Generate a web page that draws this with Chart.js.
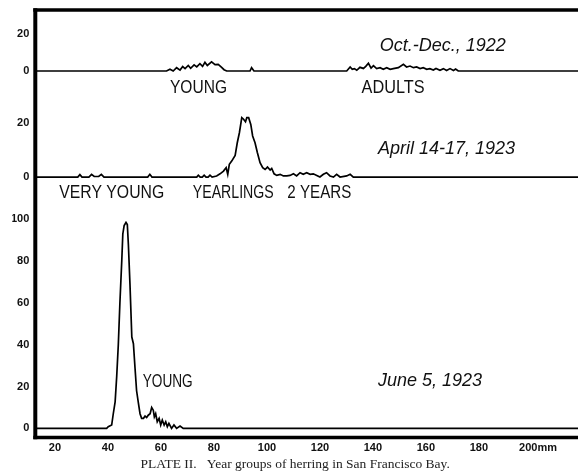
<!DOCTYPE html>
<html><head><meta charset="utf-8">
<script src="https://cdn.jsdelivr.net/npm/chart.js@4"></script>
<style>html,body{margin:0;padding:0;background:#fff}canvas{display:block}</style>
</head><body>
<canvas id="c" width="578" height="472"></canvas>
<script>
// ---- data (length in mm, relative frequency) ----
const xTickValues = [20, 40, 60, 80, 100, 120, 140, 160, 180, 200];
const xTickLabels = ['20', '40', '60', '80', '100', '120', '140', '160', '180', '200mm'];
const octTicks = [0, 20];
const aprTicks = [0, 20];
const junTicks = [0, 20, 40, 60, 80, 100];

const octSample = [[12,0],[62.1,0],[63.4,1.0],[64.6,0],[65.9,1.8],[67.2,0.5],[68.2,2.4],[69.1,1.3],[70.3,3.0],[71.2,1.5],[72.5,3.3],[73.5,2.2],[74.7,4.0],[75.7,2.5],[76.6,4.7],[77.5,3.0],[79.1,5.0],[80.4,3.5],[81.6,3.6],[82.9,2.0],[83.8,0.7],[84.8,0],[93.6,0],[94.2,1.8],[95.1,0],
  [130.1,0],[131.4,2.2],[132.2,0.9],[133.0,1.3],[133.9,0.4],[135.1,2.0],[136.4,1.4],[137.3,2.5],[138.3,4.2],[139.3,1.6],[140.2,2.9],[141.4,1.3],[142.7,1.8],[143.9,0.9],[145.2,1.8],[146.5,0.9],[147.7,1.3],[149.6,1.8],[151.5,3.6],[152.7,2.2],[154,2.7],[155.3,1.8],[156.5,2.2],[157.8,1.3],[159,1.8],[160.3,0.9],[161.5,1.3],[162.8,0.5],[163.8,1.4],[165.3,0.4],[166.6,1.3],[167.8,0.3],[169.1,1.3],[170.4,0.3],[171.2,1.1],[172.2,0],[218,0]];

const aprSample = [[12,0],[28.6,0],[29.4,0.9],[30.2,0],[32.8,0],[33.8,1],[34.8,0.2],[36.5,0.2],[37.5,1],[38.5,0],[55,0],[55.8,1],[56.6,0],
  [73.5,0],[74.1,0.7],[74.8,0],[75.6,0],[76.3,0.7],[77.0,0],[77.8,0],[78.5,0.7],[79.3,0],[81.0,0.4],[82.3,1.2],[83.6,2.2],[84.6,3.5],[85.2,1],[85.8,4.7],[86.7,5.9],[88,8],[88.8,12.7],[89.6,16.4],[90.5,22],[91.1,21.5],[91.9,20.5],[92.4,22],[93.1,22],[93.9,19.5],[94.6,15.2],[95.5,12.7],[96.4,9],[97.4,5.3],[98.4,3.5],[99.3,2.8],[100.2,3.7],[101.2,2.6],[101.8,3.2],[102.7,1.2],[103.7,0.6],[105,1],[106.2,0.4],[107.5,0.4],[108.7,0.6],[110,1.2],[111.2,0.4],[112.5,1.6],[113.7,1],[115,1.6],[116.3,1],[117.5,1.2],[118.8,0.6],[120,0],[121.3,1],[122.5,1.6],[123.8,0.4],[125.1,0],[126.3,1],[127.6,0],[130.1,0.4],[131.4,1],[132.6,0],[218,0]];

const junSample = [[12,0],[39.5,0],[40.1,0.8],[41.4,1.6],[42,7],[42.7,12.7],[43.3,25],[43.9,40],[44.5,60],[45.2,80],[45.6,93],[46.1,97],[46.8,98.5],[47.3,97.5],[47.7,88],[48.3,69],[49,43.7],[49.6,40.5],[50.2,29],[50.8,18],[51.5,12],[52.1,7],[52.7,4.8],[53.4,4.8],[54,5.9],[54.6,5.2],[55.2,6.3],[55.9,7],[56.5,10],[57.1,8.7],[57.5,5.5],[58,7],[58.6,3.2],[59.3,4.8],[59.9,1.6],[60.5,4],[61.2,1.6],[61.8,3.2],[62.4,0.8],[63,2.4],[64,0],[64.9,1.6],[65.9,0],[67.2,1.1],[68.4,0],[218,0]];

const panelTitles = ['Oct.-Dec., 1922', 'April 14-17, 1923', 'June 5, 1923'];
const groupLabels = ['YOUNG', 'ADULTS', 'VERY YOUNG', 'YEARLINGS', '2 YEARS', 'YOUNG'];
const caption = 'PLATE II.   Year groups of herring in San Francisco Bay.';

// ---- annotation placement (data coordinates of each panel) ----
const notes = [
  {text: groupLabels[0], axis: 'yOct', x: 63.4, y: -9.0, w: 57},
  {text: groupLabels[1], axis: 'yOct', x: 135.7, y: -9.4, w: 63},
  {text: panelTitles[0], axis: 'yOct', x: 142.6, y: 13.6, w: 132, italic: true},
  {text: groupLabels[2], axis: 'yApr', x: 21.6, y: -5.8, w: 105},
  {text: groupLabels[3], axis: 'yApr', x: 72.0, y: -5.8, w: 81},
  {text: groupLabels[4], axis: 'yApr', x: 107.7, y: -5.8, w: 64},
  {text: panelTitles[1], axis: 'yApr', x: 141.9, y: 10.4, w: 142, italic: true},
  {text: groupLabels[5], axis: 'yJun', x: 53.1, y: 22.3, w: 50},
  {text: panelTitles[2], axis: 'yJun', x: 141.9, y: 22.9, w: 109, italic: true}
];

const toPoints = s => s.map(([x, y]) => ({x, y}));

const framePlugin = {
  id: 'frame',
  beforeDatasetsDraw(chart) {
    const {ctx} = chart;
    const {left, top, right, bottom} = chart.chartArea;
    ctx.save();
    ctx.strokeStyle = '#000';
    ctx.lineWidth = 3.5;
    ctx.beginPath();
    ctx.moveTo(left - 2, top); ctx.lineTo(right, top);
    ctx.moveTo(left - 2, bottom); ctx.lineTo(right, bottom);
    ctx.stroke();
    ctx.lineWidth = 4;
    ctx.beginPath();
    ctx.moveTo(left, top - 1.75); ctx.lineTo(left, bottom + 1.75);
    ctx.stroke();
    ctx.restore();
  }
};

const notesPlugin = {
  id: 'notes',
  afterDatasetsDraw(chart) {
    const {ctx} = chart;
    const xs = chart.scales.x;
    ctx.save();
    ctx.fillStyle = '#111';
    ctx.textAlign = 'left';
    ctx.textBaseline = 'middle';
    for (const n of notes) {
      ctx.font = (n.italic ? 'italic ' : '') + '18px "Liberation Sans", Arial, sans-serif';
      ctx.fillText(n.text, xs.getPixelForValue(n.x), chart.scales[n.axis].getPixelForValue(n.y), n.w);
    }
    ctx.restore();
  }
};

const tickFont = {family: '"Liberation Sans", Arial, sans-serif', size: 11, weight: 'bold'};

function yAxis(tickArr, min, max, weight, stackWeight) {
  return {
    type: 'linear', position: 'left', stack: 'panels', stackWeight, weight, min, max, offset: false,
    grid: {display: false, drawTicks: false}, border: {display: false},
    afterBuildTicks: a => { a.ticks = tickArr.map(v => ({value: v})); },
    afterFit: a => { a.width = 23; },
    ticks: {autoSkip: false, padding: 6, color: '#111', font: Object.assign({lineHeight: 0.6}, tickFont)}
  };
}

const common = {borderColor: '#000', borderWidth: 1.7, pointRadius: 0, fill: false, tension: 0};

new Chart(document.getElementById('c'), {
  type: 'line',
  data: {
    datasets: [
      Object.assign({data: toPoints(octSample), yAxisID: 'yOct'}, common),
      Object.assign({data: toPoints(aprSample), yAxisID: 'yApr'}, common),
      Object.assign({data: toPoints(junSample), yAxisID: 'yJun'}, common)
    ]
  },
  options: {
    responsive: false,
    animation: false,
    events: [],
    layout: {padding: {top: 10, left: 12.3, right: 0, bottom: 0}},
    plugins: {
      legend: {display: false},
      tooltip: {enabled: false},
      title: {
        display: true, text: caption, position: 'bottom',
        padding: {top: 2, bottom: 0}, color: '#222',
        font: {family: '"Liberation Serif", "Times New Roman", serif', size: 13.5, weight: 'normal', lineHeight: 1.15}
      }
    },
    scales: {
      x: {
        type: 'linear', min: 12.57, max: 217.4,
        grid: {display: false, drawTicks: false}, border: {display: false},
        afterBuildTicks: a => { a.ticks = xTickValues.map(v => ({value: v})); },
        afterFit: a => { a.height = 17; },
        ticks: {
          autoSkip: false, maxRotation: 0, padding: 3.5, color: '#111', font: tickFont,
          callback: (v, i) => (i === xTickLabels.length - 1 ? '    ' : '') + xTickLabels[i]
        }
      },
      yJun: yAxis(junTicks, -4.35, 104.45, 1, 227.4),
      yApr: yAxis(aprTicks, -12.22, 28.52, 2, 110),
      yOct: yAxis(octTicks, -15.76, 33.15, 3, 90)
    }
  },
  plugins: [framePlugin, notesPlugin]
});
</script>
</body></html>
